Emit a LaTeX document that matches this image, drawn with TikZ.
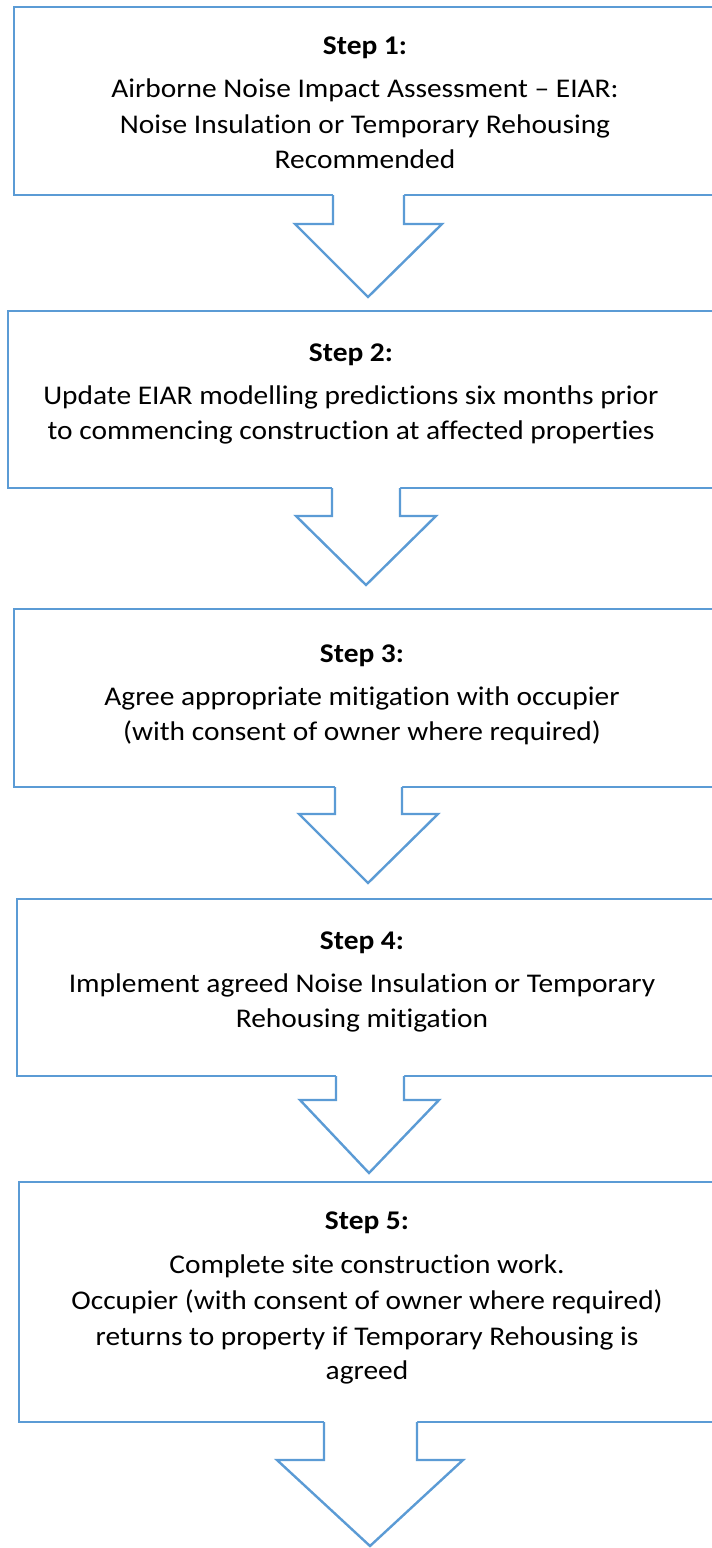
\documentclass[tikz,border=0pt]{standalone}
\usepackage{fontspec}
\setmainfont{Carlito}[FakeStretch=1.09,Ligatures=NoCommon]
\usetikzlibrary{calc}
\definecolor{boxblue}{HTML}{5B9BD5}
\begin{document}
\begin{tikzpicture}[x=1pt,y=-1pt,
  stepbox/.style={draw=boxblue,line width=2.4pt,fill=white,inner sep=0pt,outer sep=0pt,anchor=north west},
  ttl/.style={anchor=base,inner sep=0pt,font=\fontsize{27}{36}\selectfont\bfseries},
  txt/.style={anchor=base,inner sep=0pt,font=\fontsize{27}{36}\selectfont},
  arrowline/.style={draw=boxblue,line width=2.4pt,line join=miter},
  arrowfill/.style={fill=white}]
\useasboundingbox (0,0) rectangle (712,1548);
\clip (0,0) rectangle (712,1548);

% boxes
\node[stepbox,minimum width=706pt,minimum height=188pt] (b1) at (14,7) {};
\node[stepbox,minimum width=712pt,minimum height=177pt] (b2) at (8,311) {};
\node[stepbox,minimum width=706pt,minimum height=178pt] (b3) at (14,609) {};
\node[stepbox,minimum width=703pt,minimum height=177pt] (b4) at (17,899) {};
\node[stepbox,minimum width=701pt,minimum height=240pt] (b5) at (19,1182) {};

% texts
\node[ttl] (s1) at (365,54) {Step 1:};
\node[txt] (s1a) at (365,97) {Airborne Noise Impact Assessment – EIAR:};
\node[txt] (s1b) at (365,133) {Noise Insulation or Temporary Rehousing};
\node[txt] (s1c) at (365,168) {Recommended};

\node[ttl] (s2) at (351,361) {Step 2:};
\node[txt] (s2a) at (351,404) {Update EIAR modelling predictions six months prior};
\node[txt] (s2b) at (351,439) {to commencing construction at affected properties};

\node[ttl] (s3) at (362,662) {Step 3:};
\node[txt] (s3a) at (362,705) {Agree appropriate mitigation with occupier};
\node[txt] (s3b) at (362,740) {(with consent of owner where required)};

\node[ttl] (s4) at (362,949) {Step 4:};
\node[txt] (s4a) at (362,992) {Implement agreed Noise Insulation or Temporary};
\node[txt] (s4b) at (362,1027) {Rehousing mitigation};

\node[ttl] (s5) at (367,1229) {Step 5:};
\node[txt] (s5a) at (367,1273) {Complete site construction work.};
\node[txt] (s5b) at (367,1309) {Occupier (with consent of owner where required)};
\node[txt] (s5c) at (367,1345) {returns to property if Temporary Rehousing is};
\node[txt] (s5d) at (367,1379) {agreed};

% arrow tips
\coordinate (t1) at (368,297);
\coordinate (t2) at (366,585);
\coordinate (t3) at (368,883);
\coordinate (t4) at (369,1173);
\coordinate (t5) at (370,1546);

% arrows
\fill[arrowfill] ($(333,0 |- b1.south)+(0,-3)$) -- (333,224) -- (295,224) -- (t1) -- (442,224) -- (404,224) -- ($(404,0 |- b1.south)+(0,-3)$) -- cycle;
\draw[arrowline] (333,0 |- b1.south) -- (333,224) -- (295,224) -- (t1) -- (442,224) -- (404,224) -- (404,0 |- b1.south);

\fill[arrowfill] ($(332,0 |- b2.south)+(0,-3)$) -- (332,516) -- (296,516) -- (t2) -- (436,516) -- (400,516) -- ($(400,0 |- b2.south)+(0,-3)$) -- cycle;
\draw[arrowline] (332,0 |- b2.south) -- (332,516) -- (296,516) -- (t2) -- (436,516) -- (400,516) -- (400,0 |- b2.south);

\fill[arrowfill] ($(335,0 |- b3.south)+(0,-3)$) -- (335,814) -- (299,814) -- (t3) -- (438,814) -- (402,814) -- ($(402,0 |- b3.south)+(0,-3)$) -- cycle;
\draw[arrowline] (335,0 |- b3.south) -- (335,814) -- (299,814) -- (t3) -- (438,814) -- (402,814) -- (402,0 |- b3.south);

\fill[arrowfill] ($(336,0 |- b4.south)+(0,-3)$) -- (336,1100) -- (300,1100) -- (t4) -- (439,1100) -- (404,1100) -- ($(404,0 |- b4.south)+(0,-3)$) -- cycle;
\draw[arrowline] (336,0 |- b4.south) -- (336,1100) -- (300,1100) -- (t4) -- (439,1100) -- (404,1100) -- (404,0 |- b4.south);

\fill[arrowfill] ($(324,0 |- b5.south)+(0,-3)$) -- (324,1460) -- (277,1460) -- (t5) -- (463,1460) -- (417,1460) -- ($(417,0 |- b5.south)+(0,-3)$) -- cycle;
\draw[arrowline] (324,0 |- b5.south) -- (324,1460) -- (277,1460) -- (t5) -- (463,1460) -- (417,1460) -- (417,0 |- b5.south);
\end{tikzpicture}
\end{document}
